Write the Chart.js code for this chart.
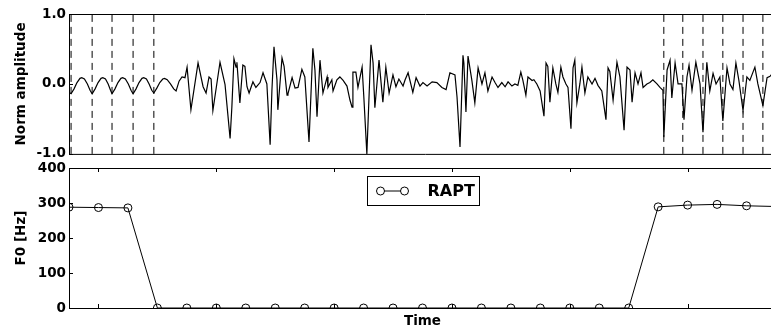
<!DOCTYPE html>
<html>
<head>
<meta charset="utf-8">
<script src="https://cdn.jsdelivr.net/npm/chart.js@4.4.1/dist/chart.umd.min.js"></script>
<style>
  html, body { margin: 0; padding: 0; background: #fff; overflow: hidden; }
  #wrap { position: relative; width: 771px; height: 330px; overflow: hidden; }
  canvas { position: absolute; left: 0; }
  #wave { top: 0; }
  #f0 { top: 155px; }
</style>
</head>
<body>
<div id="wrap">
  <canvas id="wave" width="781" height="165"></canvas>
  <canvas id="f0" width="781" height="175"></canvas>
</div>
<script>
// speech waveform (time in ms, normalised amplitude)
const waveTime = [0, 0.7, 1.7, 2.7, 3.7, 4.3, 5.2, 6.2, 7.1, 7.8, 8.8, 9.8, 10.8, 11.4, 12.3, 13.2, 14.0, 14.5, 15.5, 16.5,
  17.5, 18.1, 19.0, 20.0, 20.9, 21.6, 22.6, 23.6, 24.6, 25.2, 26.1, 27.0, 27.9, 28.6, 29.6, 30.6, 31.6, 32.2, 33.1, 34.2,
  35.3, 36.1, 37.1, 38.1, 39.1, 39.8, 41.1, 43.5, 45.2, 46.2, 47.2, 47.9, 48.5, 50.9, 52.6, 54.3, 54.9, 55.6, 56.3, 56.6,
  57.6, 58.6, 59.3, 60.0, 60.7, 62.0, 63.0, 64.4, 65.4, 66.7, 67.8, 68.4, 69.1, 70.1, 70.4, 71.8, 72.5, 73.5, 73.8, 75.2,
  76.2, 77.2, 78.5, 79.5, 80.9, 82.2, 82.9, 83.6, 84.6, 85.6, 87.0, 87.3, 88.6, 89.0, 90.3, 91.3, 92.4, 93.7, 94.7, 95.4,
  95.7, 96.7, 97.4, 98.8, 99.4, 100.4, 101.8, 102.5, 103.1, 104.5, 105.8, 106.8, 107.9, 109.2, 110.2, 111.2, 112.6, 113.3, 114.3, 115.9,
  117.0, 118.3, 119.3, 120.7, 122.4, 124.0, 125.7, 127.1, 128.4, 130.1, 130.8, 131.8, 132.8, 133.1, 133.8, 134.5, 135.8, 136.8, 137.9, 139.2,
  140.2, 141.2, 142.6, 143.6, 144.6, 145.9, 147.0, 148.0, 149.3, 150.3, 151.3, 152.3, 153.0, 154.0, 154.7, 156.1, 156.7, 157.7, 158.8, 160.1,
  160.8, 161.4, 162.1, 163.1, 164.1, 164.8, 165.8, 166.5, 167.5, 168.2, 169.2, 169.9, 170.5, 171.2, 172.2, 172.9, 173.9, 174.9, 176.3, 177.3,
  178.3, 179.6, 181.0, 181.7, 182.3, 183.4, 184.7, 185.7, 187.1, 188.1, 189.1, 189.8, 190.8, 191.8, 192.8, 193.5, 194.8, 195.8, 196.8, 198.2,
  199.2, 200.2, 200.5, 201.6, 202.6, 203.2, 204.3, 205.3, 206.6, 207.3, 208.3, 209.0, 210.0, 211.3, 212.7, 213.7, 215.0, 216.0, 217.1, 218.1,
  219.4, 220.4, 221.8, 222.8, 223.8, 224.8, 225.8, 227.2, 228.5, 229.5, 231.2, 232.2, 233.9, 235.3, 236.3, 238.0, 240.0];
const waveAmp = [-0.12, -0.14, -0.07, 0.02, 0.08, 0.09, 0.07, 0.0, -0.09, -0.14, -0.07, 0.02, 0.08, 0.09, 0.07, 0.0, -0.09, -0.14, -0.07, 0.02,
  0.08, 0.09, 0.07, 0.0, -0.09, -0.14, -0.07, 0.02, 0.08, 0.09, 0.07, 0.0, -0.09, -0.13, -0.06, 0.02, 0.07, 0.08, 0.06, 0.0,
  -0.07, -0.1, 0.04, 0.1, 0.09, 0.24, -0.37, 0.30, -0.04, -0.13, 0.1, 0.07, -0.38, 0.31, -0.01, -0.78, -0.33, 0.36, 0.24, 0.31,
  -0.27, 0.27, 0.25, -0.04, -0.13, 0.03, -0.05, 0.02, 0.16, 0.0, -0.87, -0.09, 0.53, 0.06, -0.37, 0.37, 0.25, -0.16, -0.14, 0.09,
  -0.06, -0.05, 0.21, 0.1, -0.83, 0.51, 0.2, -0.47, 0.34, -0.13, 0.1, -0.05, 0.06, -0.1, 0.06, 0.1, 0.05, -0.03, -0.23, -0.33,
  0.17, 0.17, -0.05, 0.24, -0.2, -1.0, 0.56, 0.3, -0.34, 0.34, -0.26, 0.24, -0.13, 0.13, -0.04, 0.07, -0.03, 0.06, 0.16, -0.12,
  0.09, -0.03, 0.02, -0.03, 0.03, 0.02, -0.05, -0.08, 0.16, 0.13, -0.19, -0.9, 0.41, 0.3, -0.4, 0.4, 0.05, -0.27, 0.23, 0.0,
  0.16, -0.1, 0.1, 0.02, -0.05, 0.02, -0.04, 0.03, -0.03, 0.0, -0.02, 0.17, 0.05, -0.16, 0.1, 0.05, 0.06, 0.0, -0.1, -0.46,
  0.3, 0.25, -0.26, 0.23, 0.0, -0.12, 0.24, 0.1, 0.0, -0.05, -0.64, 0.23, 0.34, -0.27, 0.0, 0.24, -0.13, 0.1, 0.0, 0.08,
  -0.02, -0.1, -0.51, 0.23, 0.18, -0.23, 0.31, 0.1, -0.66, 0.24, 0.2, -0.26, 0.16, 0.0, 0.16, -0.05, 0.0, 0.02, 0.06, 0.0,
  -0.05, -0.09, -0.76, 0.2, 0.34, -0.2, 0.3, 0.0, 0.0, -0.51, 0.1, 0.27, -0.09, 0.31, 0.0, -0.69, 0.31, -0.1, 0.15, 0.0,
  0.1, -0.53, 0.23, 0.0, -0.08, 0.3, 0.05, -0.38, 0.1, 0.05, 0.24, 0.0, -0.31, 0.09, 0.11, 0.2, -0.1];
// pitch marks drawn as dashed lines (ms)
const gciTime = [0.7, 7.8, 14.5, 21.6, 28.6, 200.5, 206.9, 213.7, 220.4, 227.2, 233.9];
const ampTicks = [-1, 0, 1];

// RAPT F0 track, one value per 10 ms frame
const f0Time = [0, 10, 20, 30, 40, 50, 60, 70, 80, 90, 100, 110, 120, 130, 140, 150, 160, 170, 180, 190, 200, 210, 220, 230, 240];
const f0Hz = [288, 287, 286, 0, 0, 0, 0, 0, 0, 0, 0, 0, 0, 0, 0, 0, 0, 0, 0, 0, 289, 294, 296, 292, 290];
const f0Ticks = [0, 100, 200, 300, 400];
const timeTicks = [10, 50, 90, 130, 170, 210];

Chart.defaults.font.family = "'DejaVu Sans', sans-serif";
Chart.defaults.font.weight = 'bold';
Chart.defaults.font.size = 13.5;
Chart.defaults.color = '#000';

// box around the plot area plus inward ticks, matplotlib style
const framePlugin = {
  id: 'frame',
  afterDatasetsDraw(chart, args, opts) {
    const { ctx, chartArea: a, scales } = chart;
    const len = 4;
    ctx.save();
    ctx.strokeStyle = '#000';
    ctx.lineWidth = 1;
    ctx.beginPath();
    ctx.rect(a.left + 0.5, a.top + 0.5, a.right - a.left, a.bottom - a.top);
    scales.y.ticks.forEach(tk => {
      const y = Math.round(scales.y.getPixelForValue(tk.value)) + 0.5;
      ctx.moveTo(a.left, y); ctx.lineTo(a.left + len, y);
      ctx.moveTo(a.right, y); ctx.lineTo(a.right - len, y);
    });
    if (opts.xTicks) {
      scales.x.ticks.forEach(tk => {
        const x = Math.round(scales.x.getPixelForValue(tk.value)) + 0.5;
        ctx.moveTo(x, a.top); ctx.lineTo(x, a.top + len);
        ctx.moveTo(x, a.bottom); ctx.lineTo(x, a.bottom - len);
      });
    }
    ctx.stroke();
    ctx.restore();
  }
};

// legend box inside the axes, upper centre
const boxLegend = {
  id: 'boxLegend',
  afterDatasetsDraw(chart) {
    const { ctx, chartArea: a } = chart;
    const ds = chart.data.datasets[0];
    const w = 112, h = 29;
    const left = Math.round((a.left + a.right) / 2 - w / 2) + 0.5;
    const top = a.top + 8.5;
    const my = top + h / 2;
    ctx.save();
    ctx.fillStyle = '#fff';
    ctx.strokeStyle = '#000';
    ctx.lineWidth = 1;
    ctx.fillRect(left, top, w, h);
    ctx.strokeRect(left, top, w, h);
    ctx.beginPath();
    ctx.moveTo(left + 13, my); ctx.lineTo(left + 37, my);
    ctx.stroke();
    [13, 37].forEach(dx => {
      ctx.beginPath();
      ctx.arc(left + dx, my, 4, 0, Math.PI * 2);
      ctx.fillStyle = '#fff';
      ctx.fill();
      ctx.stroke();
    });
    ctx.fillStyle = '#000';
    ctx.font = "bold 16px 'DejaVu Sans', sans-serif";
    ctx.textBaseline = 'middle';
    ctx.fillText(ds.label, left + 60, my + 1);
    ctx.restore();
  }
};

function fixWidth(scale) { scale.width = 69; }

const waveSets = [{
  data: waveTime.map((t, i) => ({ x: t, y: waveAmp[i] })),
  borderColor: '#000',
  borderWidth: 1.2,
  pointRadius: 0,
  tension: 0,
  clip: 0
}];
gciTime.forEach(t => {
  waveSets.push({
    data: [{ x: t, y: -1 }, { x: t, y: 1 }],
    borderColor: '#000',
    borderWidth: 1,
    borderDash: [7, 5],
    pointRadius: 0,
    clip: 0
  });
});

new Chart(document.getElementById('wave'), {
  type: 'line',
  data: { datasets: waveSets },
  options: {
    responsive: false,
    animation: false,
    devicePixelRatio: 1,
    layout: { padding: { top: 14, bottom: 11, left: 0, right: 0 } },
    plugins: { legend: { display: false }, tooltip: { enabled: false }, frame: { xTicks: false } },
    scales: {
      x: { type: 'linear', min: 0, max: 240, display: false },
      y: {
        min: -1, max: 1,
        afterBuildTicks: s => { s.ticks = ampTicks.map(v => ({ value: v })); },
        afterFit: fixWidth,
        grid: { display: false, drawTicks: false },
        border: { display: false },
        ticks: { padding: 3, callback: v => v.toFixed(1) },
        title: { display: true, text: 'Norm amplitude', padding: { top: 13, bottom: 0 } }
      }
    }
  },
  plugins: [framePlugin]
});

new Chart(document.getElementById('f0'), {
  type: 'line',
  data: {
    datasets: [{
      label: 'RAPT',
      data: f0Time.map((t, i) => ({ x: t, y: f0Hz[i] })),
      borderColor: '#000',
      borderWidth: 1,
      pointRadius: 4,
      pointBorderWidth: 1,
      pointBorderColor: '#000',
      pointBackgroundColor: 'rgba(0,0,0,0)',
      tension: 0,
      clip: 0
    }]
  },
  options: {
    responsive: false,
    animation: false,
    devicePixelRatio: 1,
    layout: { padding: { top: 13, bottom: 0, left: 0, right: 0 } },
    plugins: { legend: { display: false }, tooltip: { enabled: false }, frame: { xTicks: true } },
    scales: {
      x: {
        type: 'linear', min: 0, max: 240,
        afterBuildTicks: s => { s.ticks = timeTicks.map(v => ({ value: v })); },
        afterFit: s => { s.height = 22; },
        grid: { display: false, drawTicks: false },
        border: { display: false },
        ticks: { display: false },
        title: { display: true, text: 'Time', padding: { top: 0, bottom: 0 } }
      },
      y: {
        min: 0, max: 400,
        afterBuildTicks: s => { s.ticks = f0Ticks.map(v => ({ value: v })); },
        afterFit: fixWidth,
        grid: { display: false, drawTicks: false },
        border: { display: false },
        ticks: { padding: 3 },
        title: { display: true, text: 'F0 [Hz]', padding: { top: 13, bottom: 0 } }
      }
    }
  },
  plugins: [framePlugin, boxLegend]
});
</script>
</body>
</html>
